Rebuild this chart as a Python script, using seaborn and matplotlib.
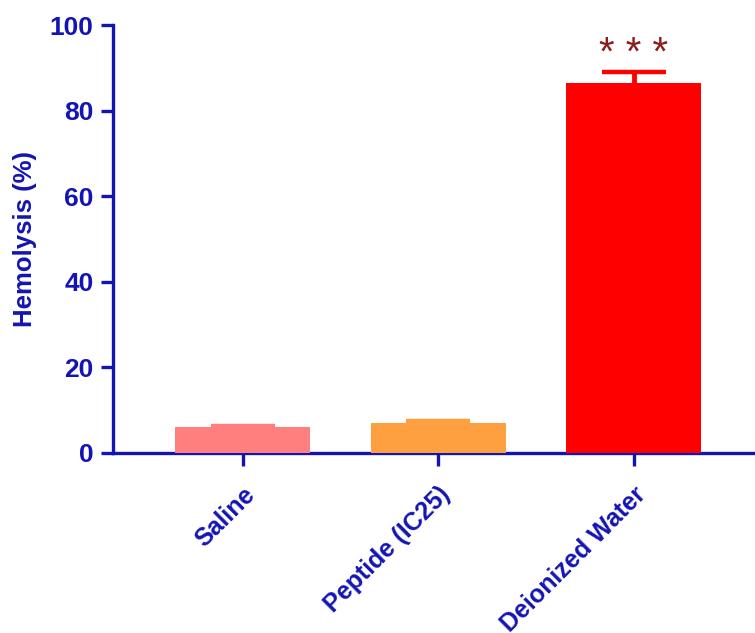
import matplotlib
matplotlib.use("Agg")
import matplotlib.pyplot as plt
import seaborn as sns
import pandas as pd
import numpy as np

groups = ["Saline", "Peptide (IC25)", "Deionized Water"]
hemolysis_mean = [6.0, 6.9, 86.5]
hemolysis_sem = [0.3, 0.6, 2.5]
bar_colors = ["#FF7F7F", "#FFA040", "#FF0000"]
yticks = [0, 20, 40, 60, 80, 100]
sig_label = "* * *"

sns.set_theme(style="white")
plt.rcParams["font.family"] = ["Liberation Sans", "DejaVu Sans"]

blue = "#1414B4"

df = pd.DataFrame({"group": groups, "mean": hemolysis_mean})

fig = plt.figure(figsize=(7.55, 6.33), dpi=100)
ax = fig.add_axes([0.1497, 0.2844, 0.8503, 0.6761])

sns.barplot(data=df, x="group", y="mean", hue="group", palette=bar_colors,
            order=groups, hue_order=groups, legend=False, width=0.69,
            errorbar=None, ax=ax, saturation=1, linewidth=0, zorder=3)

# SEM bars in the bar's own colour, drawn behind the bars so only the
# upper whisker shows
for i, (m, s, c) in enumerate(zip(hemolysis_mean, hemolysis_sem, bar_colors)):
    ax.errorbar(i, m, yerr=s, fmt="none", ecolor=c, elinewidth=3.5,
                capsize=23, capthick=3.2, zorder=2)

ax.text(2, 93.2, sig_label, ha="center", va="center", color="#8B1C1C",
        fontsize=29, fontweight="normal")

ax.set_xlim(-0.663, 2.62)
ax.set_ylim(0, 100)
ax.set_yticks(yticks)
ax.set_yticklabels([str(v) for v in yticks], fontsize=19, fontweight="bold",
                   color=blue)
ax.set_xticks(range(len(groups)))
ax.set_xticklabels(groups, rotation=45, ha="right", rotation_mode="anchor",
                   fontsize=18, fontweight="bold", color=blue)
ax.set_xlabel("")
ax.set_ylabel("Hemolysis (%)", fontsize=18.5, fontweight="bold", color=blue,
              labelpad=9)

for side in ["top", "right"]:
    ax.spines[side].set_visible(False)
for side in ["left", "bottom"]:
    ax.spines[side].set_color(blue)
    ax.spines[side].set_linewidth(2.4)

ax.tick_params(axis="y", which="major", direction="out", length=9,
               width=2.4, color=blue, left=True, pad=5)
ax.tick_params(axis="x", which="major", direction="out", length=9,
               width=2.4, color=blue, bottom=True, pad=12)

fig.savefig("out.png", dpi=100)
